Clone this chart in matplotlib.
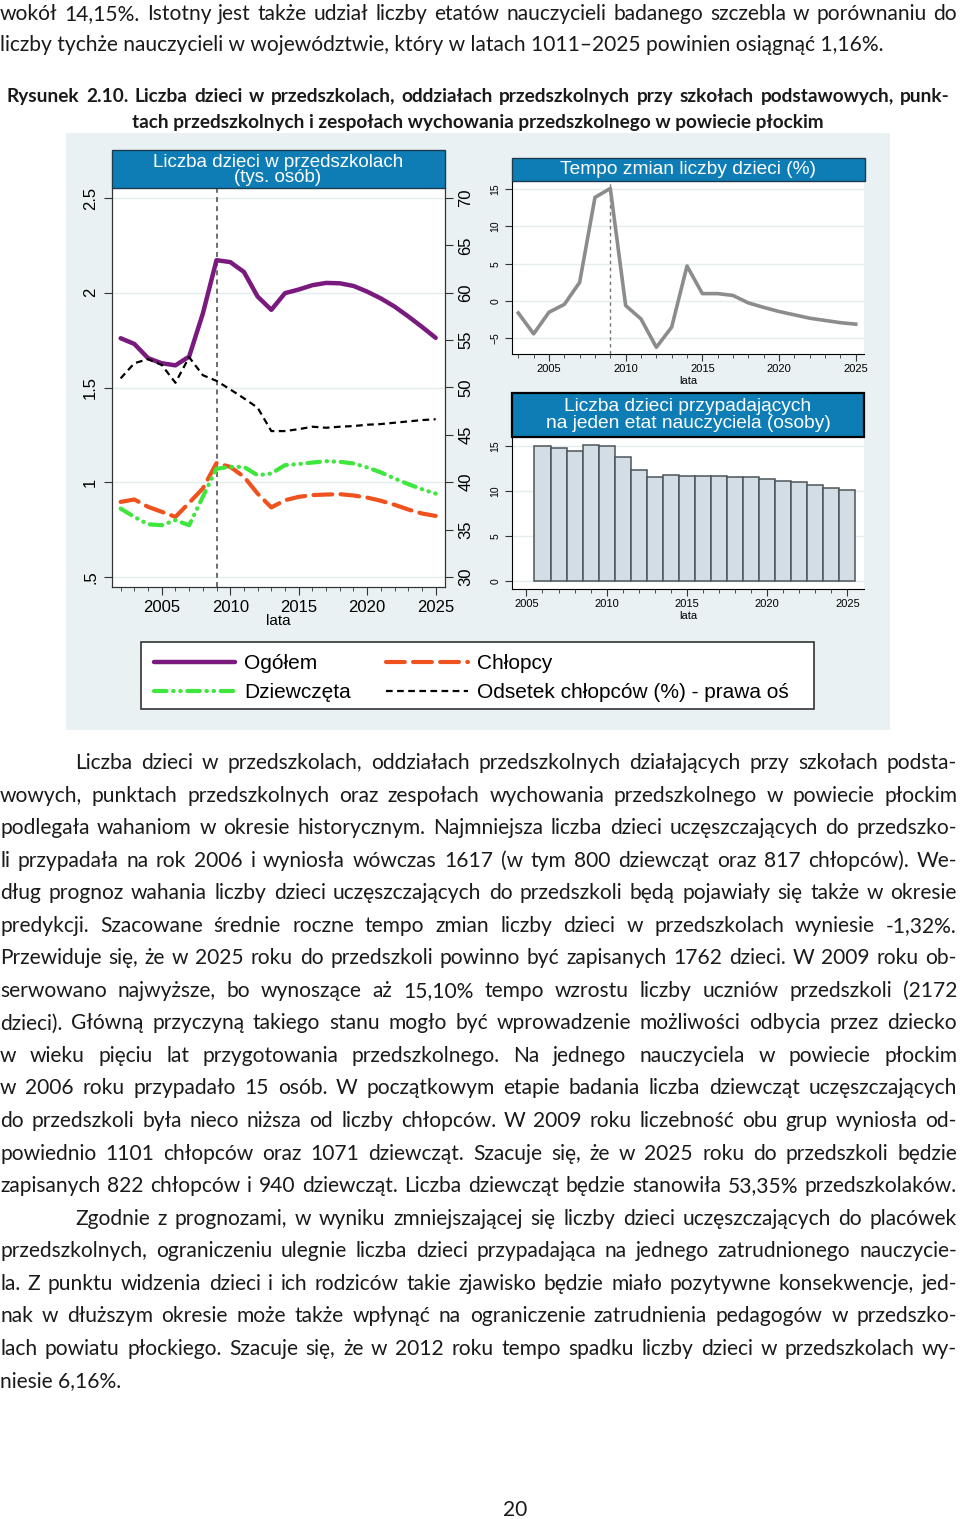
import numpy as np
import matplotlib
matplotlib.use("Agg")
import matplotlib.pyplot as plt
from matplotlib import font_manager
from matplotlib.patches import Rectangle
from matplotlib.lines import Line2D

# dane
lata = list(range(2002, 2026))
ogolem = [1.76, 1.73, 1.655, 1.628, 1.617, 1.663, 1.89, 2.172, 2.162, 2.11, 1.98, 1.91,
          1.998, 2.017, 2.04, 2.052, 2.05, 2.036, 2.006, 1.97, 1.927, 1.875, 1.82, 1.762]
chlopcy = [0.896, 0.909, 0.870, 0.844, 0.817, 0.891, 0.967, 1.101, 1.081, 1.029, 0.94, 0.867,
           0.905, 0.923, 0.932, 0.935, 0.937, 0.930, 0.919, 0.902, 0.881, 0.856, 0.835, 0.822]
dziewczeta = [0.861, 0.817, 0.778, 0.773, 0.800, 0.773, 0.923, 1.071, 1.081, 1.081, 1.037, 1.046,
              1.090, 1.096, 1.104, 1.111, 1.108, 1.099, 1.078, 1.052, 1.020, 0.990, 0.963, 0.940]
odsetek = [50.96, 52.56, 53.0, 52.38, 50.5, 53.2, 51.3, 50.7, 49.8, 48.86, 47.87, 45.4,
           45.4, 45.6, 45.86, 45.75, 45.86, 45.93, 46.07, 46.14, 46.28, 46.42, 46.56, 46.65]

lata_tempo = list(range(2003, 2026))
tempo = [-1.6, -4.4, -1.5, -0.45, 2.5, 13.9, 15.1, -0.6, -2.4, -6.2, -3.5, 4.7,
         1.0, 1.0, 0.75, -0.25, -0.85, -1.4, -1.85, -2.3, -2.6, -2.9, -3.1]

lata_etat = list(range(2006, 2026))
na_etat = [15.04, 14.78, 14.44, 15.19, 15.0, 13.85, 12.4, 11.59, 11.8, 11.7,
           11.66, 11.73, 11.59, 11.55, 11.36, 11.14, 10.99, 10.69, 10.40, 10.14]

tekst_gora = [
    "wokół 14,15%. Istotny jest także udział liczby etatów nauczycieli badanego szczebla w porównaniu do",
    "liczby tychże nauczycieli w województwie, który w latach 1011–2025 powinien osiągnąć 1,16%.",
]
podpis = [
    "Rysunek 2.10. Liczba dzieci w przedszkolach, oddziałach przedszkolnych przy szkołach podstawowych, punk-",
    "tach przedszkolnych i zespołach wychowania przedszkolnego w powiecie płockim",
]
akapit1 = [
    "Liczba dzieci w przedszkolach, oddziałach przedszkolnych działających przy szkołach podsta-",
    "wowych, punktach przedszkolnych oraz zespołach wychowania przedszkolnego w powiecie płockim",
    "podlegała wahaniom w okresie historycznym. Najmniejsza liczba dzieci uczęszczających do przedszko-",
    "li przypadała na rok 2006 i wyniosła wówczas 1617 (w tym 800 dziewcząt oraz 817 chłopców). We-",
    "dług prognoz wahania liczby dzieci uczęszczających do przedszkoli będą pojawiały się także w okresie",
    "predykcji. Szacowane średnie roczne tempo zmian liczby dzieci w przedszkolach wyniesie -1,32%.",
    "Przewiduje się, że w 2025 roku do przedszkoli powinno być zapisanych 1762 dzieci. W 2009 roku ob-",
    "serwowano najwyższe, bo wynoszące aż 15,10% tempo wzrostu liczby uczniów przedszkoli (2172",
    "dzieci). Główną przyczyną takiego stanu mogło być wprowadzenie możliwości odbycia przez dziecko",
    "w wieku pięciu lat przygotowania przedszkolnego. Na jednego nauczyciela w powiecie płockim",
    "w 2006 roku przypadało 15 osób. W początkowym etapie badania liczba dziewcząt uczęszczających",
    "do przedszkoli była nieco niższa od liczby chłopców. W 2009 roku liczebność obu grup wyniosła od-",
    "powiednio 1101 chłopców oraz 1071 dziewcząt. Szacuje się, że w 2025 roku do przedszkoli będzie",
    "zapisanych 822 chłopców i 940 dziewcząt. Liczba dziewcząt będzie stanowiła 53,35% przedszkolaków.",
]
akapit2 = [
    "Zgodnie z prognozami, w wyniku zmniejszającej się liczby dzieci uczęszczających do placówek",
    "przedszkolnych, ograniczeniu ulegnie liczba dzieci przypadająca na jednego zatrudnionego nauczycie-",
    "la. Z punktu widzenia dzieci i ich rodziców takie zjawisko będzie miało pozytywne konsekwencje, jed-",
    "nak w dłuższym okresie może także wpłynąć na ograniczenie zatrudnienia pedagogów w przedszko-",
    "lach powiatu płockiego. Szacuje się, że w 2012 roku tempo spadku liczby dzieci w przedszkolach wy-",
    "niesie 6,16%.",
]

W, H = 960, 1519
fonty = {f.name for f in font_manager.fontManager.ttflist}
font_tekst = "Liberation Sans Narrow" if "Liberation Sans Narrow" in fonty else "Lato"
font_wykres = "Liberation Sans"

plt.rcParams["font.family"] = [font_wykres, "DejaVu Sans"]
fig = plt.figure(figsize=(W / 100, H / 100), dpi=100)
renderer = fig.canvas.get_renderer()

tlo = "#e9f1f3"
niebieski = "#0e7db6"
szary_siatka = "#e4ecef"


def ax_px(x0, y0, x1, y1):
    return fig.add_axes([x0 / W, 1 - y1 / H, (x1 - x0) / W, (y1 - y0) / H])


def prostokat(x0, y0, x1, y1, **kw):
    r = Rectangle((x0 / W, 1 - y1 / H), (x1 - x0) / W, (y1 - y0) / H,
                  transform=fig.transFigure, **kw)
    fig.patches.append(r)
    return r


def szerokosc(tekst, **kw):
    t = fig.text(0, 0, tekst, **kw)
    w = t.get_window_extent(renderer).width
    t.remove()
    return w


def linia(y, tekst, x0=0, x1=957, wyjustuj=True, **kw):
    slowa = tekst.split(" ")
    if not wyjustuj or len(slowa) == 1:
        fig.text(x0 / W, 1 - y / H, tekst, ha="left", va="center_baseline", **kw)
        return
    arty = [fig.text(0, 1 - y / H, s, ha="left", va="center_baseline", **kw) for s in slowa]
    szer = [a.get_window_extent(renderer).width for a in arty]
    odstep = (x1 - x0 - sum(szer)) / (len(slowa) - 1)
    x = x0
    for a, s in zip(arty, szer):
        a.set_x(x / W)
        x += s + odstep


# dobór rozmiaru czcionki tak, by najdłuższy wiersz się mieścił
rozmiar = 14.0
naj = max(szerokosc(t, fontsize=rozmiar, family=font_tekst) for t in akapit1 + akapit2 + tekst_gora)
rozmiar = rozmiar * 950 / naj
tk = dict(fontsize=rozmiar, family=font_tekst, color="#1a1a1a")
rozmiar_b = 14.0
naj_b = szerokosc(podpis[0], fontsize=rozmiar_b, family=font_tekst, weight="bold")
rozmiar_b = rozmiar_b * 925 / naj_b

# tekst nad rysunkiem
linia(12, tekst_gora[0], **tk)
linia(43, tekst_gora[1], wyjustuj=False, **tk)
rb = dict(fontsize=rozmiar_b, family=font_tekst, weight="bold", color="#1a1a1a")
linia(95, podpis[0], x0=7, x1=950, **rb)
fig.text(478 / W, 1 - 121 / H, podpis[1], ha="center", va="center_baseline", **rb)

# akapity pod rysunkiem
ys = [761 + i * 32.55 for i in range(20)]
for i, t in enumerate(akapit1):
    linia(ys[i], t, x0=75 if i == 0 else 0, **tk)
for i, t in enumerate(akapit2):
    ostatni = i == len(akapit2) - 1
    linia(ys[14 + i], t, x0=75 if i == 0 else 0, wyjustuj=not ostatni, **tk)
fig.text(515 / W, 1 - 1508 / H, "20", ha="center", va="center_baseline", **tk)

# tło rysunku (pod osiami)
prostokat(66, 133, 890, 730, facecolor=tlo, edgecolor="none", zorder=-5)

# --- panel lewy: liczba dzieci ---
ax = ax_px(112, 188, 445, 587)
ax.set_xlim(2001.37, 2025.68)
ax.set_ylim(0.447, 2.553)
ax.set_yticks([0.5, 1, 1.5, 2, 2.5])
ax.set_yticklabels([".5", "1", "1.5", "2", "2.5"])
ax.set_xticks([2005, 2010, 2015, 2020, 2025])
ax.set_xticks(lata, minor=True)
ax.grid(axis="y", color=szary_siatka, lw=1)
ax.set_axisbelow(True)
ax.axvline(2009, color="#555555", lw=1.2, dashes=(3, 2.5), zorder=1)
l_og, = ax.plot(lata, ogolem, color="#7a1a7e", lw=3.2, solid_capstyle="round", zorder=4)
l_ch, = ax.plot(lata, chlopcy, color="#f0521e", lw=3, dashes=(4.5, 2), dash_capstyle="round", zorder=3)
l_dz, = ax.plot(lata, dziewczeta, color="#3ee63e", lw=3,
                dashes=(3, 1.6, 0.1, 1.6, 0.1, 1.6), dash_capstyle="round", zorder=3)
ax2 = ax.twinx()
ax2.set_ylim(20 * 0.447 + 20, 20 * 2.553 + 20)
ax2.set_yticks([30, 35, 40, 45, 50, 55, 60, 65, 70])
l_od, = ax2.plot(lata, odsetek, color="black", lw=1.6, dashes=(3, 2), zorder=3)
for a in (ax, ax2):
    a.tick_params(axis="y", labelrotation=90, labelsize=12, length=6, color="#333333")
    for s in a.spines.values():
        s.set_color("#333333")
ax.tick_params(axis="y", pad=4)
for lab in ax.get_yticklabels() + ax2.get_yticklabels():
    lab.set_va("center")
ax.tick_params(axis="x", labelsize=12, length=6, color="#333333")
ax.tick_params(axis="x", which="minor", length=3, color="#333333")
ax.set_xlabel("lata", fontsize=11, labelpad=-1)
ax.spines["top"].set_visible(False)
ax2.spines["top"].set_visible(False)

prostokat(112, 150, 445, 188, facecolor=niebieski, edgecolor="#1d3b4e", lw=1, zorder=5)
fig.text(278 / W, 1 - 170 / H, "Liczba dzieci w przedszkolach\n(tys. osób)", ha="center", va="center",
         color="white", fontsize=13.5, linespacing=0.88, zorder=6)

# --- panel prawy górny: tempo zmian ---
axt = ax_px(512, 181, 864, 354)
axt.set_xlim(2002.59, 2025.54)
axt.set_ylim(-7.1, 16.1)
axt.set_yticks([-5, 0, 5, 10, 15])
axt.set_xticks([2005, 2010, 2015, 2020, 2025])
axt.set_xticks(lata_tempo, minor=True)
axt.grid(axis="y", color=szary_siatka, lw=1)
axt.set_axisbelow(True)
axt.axvline(2009, color="#777777", lw=1, dashes=(2.5, 2.5), zorder=1)
axt.plot(lata_tempo, tempo, color="#8c8c8c", lw=2.6, zorder=3)
axt.spines["top"].set_visible(False)
axt.spines["right"].set_visible(False)
axt.tick_params(axis="y", labelrotation=90, labelsize=7.5, length=5, color="#333333")
for lab in axt.get_yticklabels():
    lab.set_va("center")
axt.tick_params(axis="x", labelsize=8, length=5, color="#333333", pad=2)
axt.tick_params(axis="x", which="minor", length=3, color="#333333")
axt.set_xlabel("lata", fontsize=8, labelpad=2)
prostokat(512, 158, 865, 181, facecolor=niebieski, edgecolor="#1d3b4e", lw=1, zorder=5)
fig.text(688 / W, 1 - 169.5 / H, "Tempo zmian liczby dzieci (%)", ha="center", va="center",
         color="white", fontsize=13.8, zorder=6)

# --- panel prawy dolny: dzieci na etat ---
axb = ax_px(512, 437, 864, 589)
axb.set_xlim(2004.1, 2026.04)
axb.set_ylim(-0.89, 16.04)
axb.set_yticks([0, 5, 10, 15])
axb.set_xticks([2005, 2010, 2015, 2020, 2025])
axb.set_xticks(list(range(2005, 2026)), minor=True)
axb.grid(axis="y", color=szary_siatka, lw=1)
axb.set_axisbelow(True)
axb.bar(lata_etat, na_etat, width=1, color="#d3dde5", edgecolor="#4b5459", lw=1.1, zorder=3)
axb.spines["top"].set_visible(False)
axb.spines["right"].set_visible(False)
axb.tick_params(axis="y", labelrotation=90, labelsize=7.5, length=5, color="#333333")
for lab in axb.get_yticklabels():
    lab.set_va("center")
axb.tick_params(axis="x", labelsize=8, length=5, color="#333333", pad=2)
axb.tick_params(axis="x", which="minor", length=3, color="#333333")
axb.set_xlabel("lata", fontsize=8, labelpad=1.5)
prostokat(512, 393, 864, 437, facecolor=niebieski, edgecolor="black", lw=1.6, zorder=5)
fig.text(688 / W, 1 - 415 / H, "Liczba dzieci przypadających\nna jeden etat nauczyciela (osoby)",
         ha="center", va="center", color="white", fontsize=13.8, linespacing=0.98, zorder=6)

# --- legenda (ramka rysowana osobno) ---
prostokat(141, 642, 814, 709, facecolor="white", edgecolor="#333333", lw=1.2, zorder=5)
leg = fig.legend([l_og, l_dz, l_ch, l_od],
                 ["Ogółem", "Dziewczęta", "Chłopcy", "Odsetek chłopców (%) - prawa oś"],
                 ncol=2, loc="upper left", bbox_to_anchor=(141 / W, 1 - 642 / H),
                 fontsize=15, handlelength=3.9, columnspacing=1.7, handletextpad=0.45,
                 labelspacing=0.45, borderpad=0.6, frameon=False, borderaxespad=0)
leg.set_zorder(6)

fig.savefig("out.png", dpi=100)
